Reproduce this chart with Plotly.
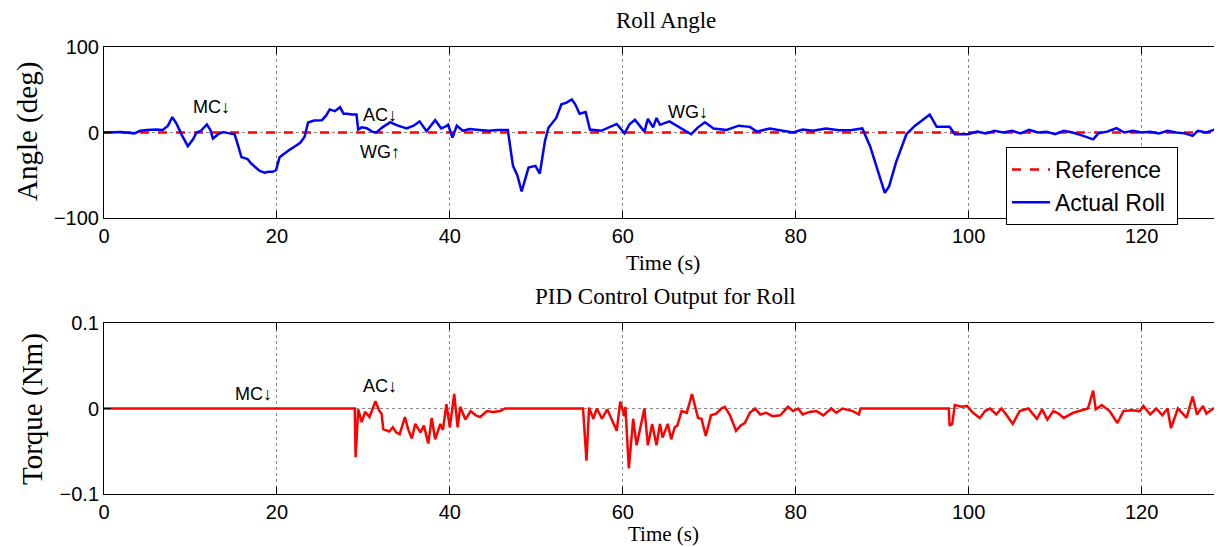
import plotly.graph_objects as go
from plotly.subplots import make_subplots

# ---- data ----
roll_t = [0, 2, 3.5, 4.2, 5, 6, 6.8, 7.4, 7.9, 8.4, 9.0, 9.7, 10.3, 10.7, 11.2, 11.9, 12.3, 12.6, 13.2, 13.8,
          14.5, 15.1, 15.5, 15.9, 16.3, 16.6, 17.0, 17.5, 18.0, 18.6, 19.0, 19.5, 19.9, 20.3, 20.9, 21.5, 22.1,
          22.7, 23.2, 23.6, 24.3, 25.2, 25.7, 26.1, 26.7, 27.3, 27.7, 28.1, 28.7, 29.2, 29.4, 29.8, 30.4, 31.0,
          31.5, 32.2, 33.1, 34.0, 35.0, 35.8, 36.5, 37.0, 37.3, 38.3, 39.0, 39.5, 39.8, 40.3, 40.8, 41.5, 42.3,
          43.4, 44.5, 45.5, 46.7, 47.3, 47.8, 48.3, 48.7, 49.1, 49.9, 50.4, 51.0, 51.4, 52.3, 52.9, 53.5, 54.1,
          54.5, 55.0, 55.7, 56.2, 57.5, 58.4, 59.3, 60.2, 60.8, 61.4, 62.0, 62.5, 62.9, 63.5, 63.9, 64.3, 65.4,
          66.6, 67.9, 68.7, 69.5, 70.5, 72.0, 73.4, 74.7, 75.5, 77.0, 78.5, 79.7, 80.8, 82, 83.5, 85, 86.5, 87.7,
          88.6, 89.3, 90.3, 90.8, 91.6, 92.8, 93.8, 94.6, 95.5, 96.3, 97.8, 98.4, 99.9, 101, 102, 103, 104, 105,
          106, 107, 108, 109, 110, 111, 112, 113, 114.4, 115, 116, 117.1, 118, 119, 120, 121, 122, 123, 124, 125,
          125.9, 126.5, 127.5, 128.6, 129.0, 129.3]
roll_deg = [0, 0.5, -1, 2, 3, 3.5, 3, 8, 18, 10, -3, -16, -8, 0, 2, 9.4, 3, -7, -2, 0.5,
            -1, -2, -15, -29, -30, -31, -36, -41, -45, -47, -46, -46, -44, -29, -24, -20, -16,
            -12, -5, 11.7, 14, 14.4, 20, 27, 25, 29.6, 22, 22, 21, 21, 3.5, 6, 5, 1,
            0, 6, 12, 8, 4.7, 8, 13, 6, 1.5, 14.4, 4.7, 7, 9, -6, 8, 2, 4,
            3, 2, 3, 3, -39, -50, -69, -55, -41, -39, -48, -10, 5.5, 17, 33, 35, 38.6,
            33, 22, 24, 3.5, 2, 6, 10, -1, 10, 15, 7, 1, 16, 6, 17, 9, 13,
            6, -2, 6, 12, 4.7, 3, 8, 6.6, 1, 4.7, 2, 0, 3.5, 2, 4.7, 2.5, 3, 4.7,
            -16, -39, -70.5, -63, -35, -2, 8, 14, 21, 6.6, 6.6, -2, -2, 1, -1, 2, 0, 2,
            -1, 3, 0, 1, -2, 2, 0, -3, -8, -1, 1, 5, 0, 2, 0, 1, -1, 2, 0, -1,
            -4, 2, 0, 4, 0, -23]
ref_t = [0, 129.3]
ref_deg = [0, 0]

torque_t = [0, 29.0, 29.1, 29.4, 29.8, 30.2, 30.7, 31.0, 31.4, 31.8, 32.1, 32.3, 33.0, 33.4, 33.8, 34.2, 34.8,
            35.2, 35.6, 36.0, 36.6, 37.0, 37.5, 37.9, 38.3, 38.9, 39.2, 39.6, 40.0, 40.5, 40.9, 41.2, 41.8, 42.4,
            43.0, 43.5, 44.3, 45.0, 45.8, 46.4, 55.4, 55.8, 56.1, 56.6, 57.0, 57.6, 58.2, 59.3, 59.7, 60.2, 60.3,
            60.7, 61.2, 61.6, 62.1, 62.5, 62.9, 63.4, 63.9, 64.3, 64.6, 65.2, 65.6, 66.0, 66.3, 66.8, 67.4, 68.0,
            68.7, 69.1, 69.6, 70.2, 70.8, 71.4, 71.8, 72.4, 73.1, 73.6, 74.1, 74.7, 75.3, 75.9, 76.6, 77.3, 78.2,
            79.1, 79.7, 80.3, 80.8, 81.6, 82.4, 83.2, 84.1, 84.7, 85.4, 86.6, 87.3, 87.5, 97.7, 97.8, 98.1, 98.4,
            99.2, 99.8, 100.5, 101.3, 101.9, 102.5, 103.2, 103.8, 104.4, 105.1, 105.9, 106.9, 107.9, 108.5, 109.1,
            109.8, 110.4, 111.0, 112.1, 113.3, 113.8, 114.4, 114.7, 115.4, 116.3, 117.2, 117.9, 118.8, 119.8, 120.2,
            121.0, 121.7, 122.4, 123.0, 123.4, 124.2, 125.2, 125.9, 126.4, 127.1, 127.5, 128.3, 129.3]
torque_nm = [0, 0, -0.057, -0.001, -0.016, -0.004, -0.01, -0.002, 0.0085, -0.002, -0.006, -0.024, -0.027, -0.022,
             -0.028, -0.03, -0.01, -0.025, -0.035, -0.018, -0.028, -0.02, -0.041, -0.011, -0.036, -0.018, -0.025,
             0.005, -0.022, 0.017, -0.022, 0.002, -0.013, -0.003, -0.008, -0.01, -0.003, -0.004, -0.003, 0, 0,
             -0.061, 0.001, -0.012, 0, -0.012, -0.001, -0.026, 0.008, -0.009, 0.002, -0.07, -0.012, -0.043, -0.02,
             0, -0.043, -0.018, -0.043, -0.018, -0.034, -0.018, -0.036, -0.022, -0.02, -0.003, -0.005, 0.017,
             -0.011, -0.012, -0.032, -0.008, -0.006, 0, 0.002, -0.008, -0.026, -0.02, -0.017, -0.005, 0, -0.007,
             -0.005, -0.009, -0.008, 0.002, -0.003, 0, -0.007, -0.004, -0.003, -0.008, 0, -0.005, 0, -0.003,
             -0.007, 0, 0, -0.02, -0.018, 0.004, 0.002, 0.003, -0.005, -0.011, -0.003, 0, -0.007, 0, -0.008,
             -0.018, -0.003, 0, -0.012, -0.001, -0.013, -0.003, -0.006, -0.011, -0.005, -0.001, 0, 0.021, -0.001,
             0.004, -0.003, -0.017, -0.003, -0.002, -0.003, 0.003, -0.007, 0, -0.008, 0, -0.023, 0, -0.011, 0.014,
             -0.007, 0.003, -0.006, 0, 0]

x_ticks = [0, 20, 40, 60, 80, 100, 120]
roll_ticks = [-100, 0, 100]
roll_ticktext = ["\u2212100", "0", "100"]
torque_ticks = [-0.1, 0, 0.1]
torque_ticktext = ["\u22120.1", "0", "0.1"]

# annotations: (x, y, text)
roll_notes = [(12.4, 30, "MC\u2193"), (31.9, 20, "AC\u2193"), (31.9, -23, "WG\u2191"), (67.5, 24.5, "WG\u2193")]
torque_notes = [(17.3, 0.0175, "MC\u2193"), (31.9, 0.026, "AC\u2193")]

# page offset (body margin) and figure size
OFF = 8
W, H = 1222 - OFF, 547 - OFF
ML = 104 - OFF
PW = W - ML
SANS = "Liberation Sans, Arial, sans-serif"
SERIF = "Liberation Serif, Times New Roman, serif"


def fx(p):
    return (p - OFF - ML) / PW


def fy(p):
    return 1 - (p - OFF) / H


fig = make_subplots(rows=2, cols=1)

fig.add_trace(go.Scatter(x=ref_t, y=ref_deg, mode="lines", name="Reference",
                         line=dict(color="#ff0000", width=2.5, dash="dash")), row=1, col=1)
fig.add_trace(go.Scatter(x=roll_t, y=roll_deg, mode="lines", name="Actual Roll\u00a0",
                         line=dict(color="#0000ff", width=2.5)), row=1, col=1)
fig.add_trace(go.Scatter(x=torque_t, y=torque_nm, mode="lines", name="Torque", showlegend=False,
                         line=dict(color="#ff0000", width=2.5)), row=2, col=1)

axis_common = dict(showline=True, linecolor="black", linewidth=1, ticks="inside", ticklen=7,
                   tickcolor="black", showgrid=True, gridcolor="#888888", griddash="dot", gridwidth=1,
                   zeroline=False, automargin=False, tickfont=dict(family=SANS, size=20, color="black"))

fig.update_layout(
    width=W, height=H,
    margin=dict(l=ML, r=0, t=0, b=0, autoexpand=False),
    paper_bgcolor="white", plot_bgcolor="white",
    showlegend=True,
    legend=dict(x=fx(1006), y=fy(147), xanchor="left", yanchor="top",
                bordercolor="black", borderwidth=1, bgcolor="white",
                font=dict(family=SANS, size=23, color="black"),
                tracegroupgap=0, itemwidth=38),
    xaxis=dict(domain=[0, 1], range=[0, 129.3], tickvals=x_ticks, mirror="ticks", **axis_common),
    xaxis2=dict(domain=[0, 1], range=[0, 129.3], tickvals=x_ticks, mirror="ticks", **axis_common),
    yaxis=dict(domain=[fy(218), fy(47)], range=[-100, 100], tickvals=roll_ticks, ticktext=roll_ticktext,
               **axis_common),
    yaxis2=dict(domain=[fy(494), fy(323)], range=[-0.1, 0.1], tickvals=torque_ticks, ticktext=torque_ticktext,
                **axis_common),
)

annots = []
for x, y, t in roll_notes:
    annots.append(dict(x=x, y=y, xref="x", yref="y", text=t, showarrow=False,
                       xanchor="center", yanchor="middle",
                       font=dict(family=SANS, size=18, color="black")))
for x, y, t in torque_notes:
    annots.append(dict(x=x, y=y, xref="x2", yref="y2", text=t, showarrow=False,
                       xanchor="center", yanchor="middle",
                       font=dict(family=SANS, size=18, color="black")))

labels = [
    (666, 21, "Roll Angle", 23, 0),
    (665, 296, "PID Control Output for Roll", 23, 0),
    (663, 262, "Time (s)", 22, 0),
    (663, 534, "Time (s)", 21, 0),
    (27, 132, "Angle (deg)", 29, -90),
    (32, 409, "Torque (Nm)", 29, -90),
]
for px, pyy, t, s, ang in labels:
    annots.append(dict(x=fx(px), y=fy(pyy), xref="paper", yref="paper", text=t, showarrow=False,
                       xanchor="center", yanchor="middle", textangle=ang, borderpad=0,
                       font=dict(family=SERIF, size=s, color="black")))
fig.update_layout(annotations=annots)

fig.write_html("out.html")
